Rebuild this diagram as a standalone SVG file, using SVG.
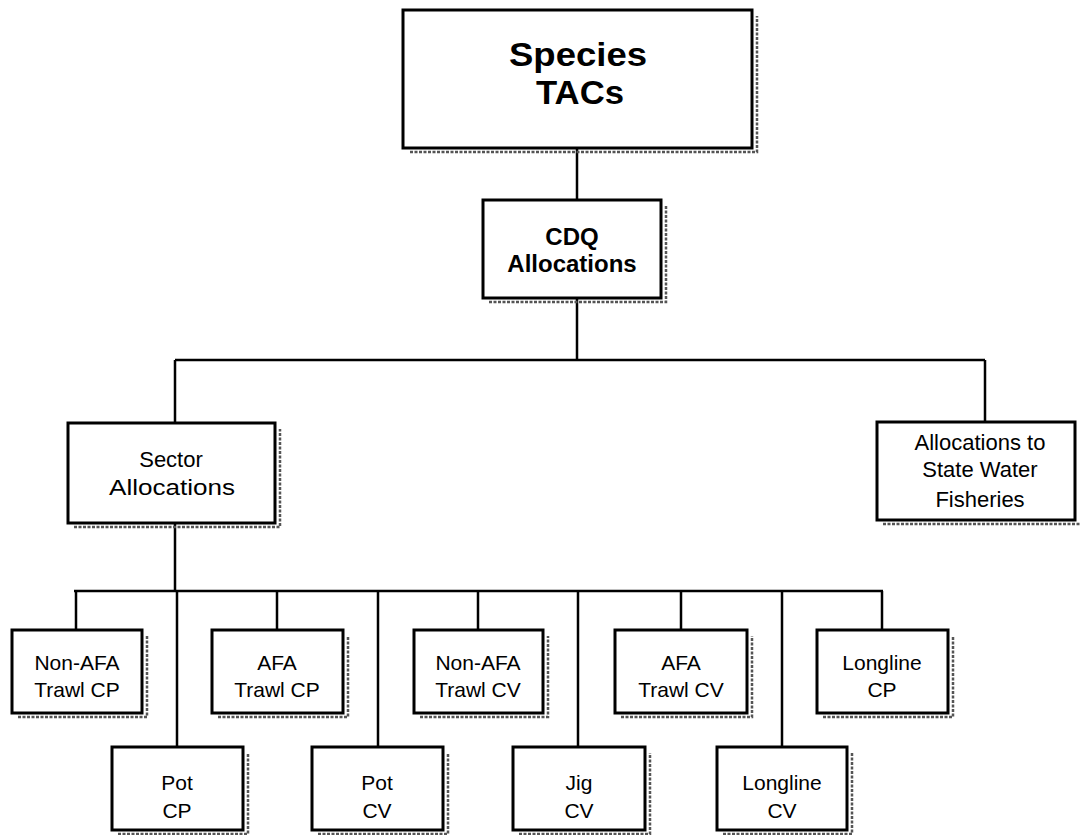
<svg xmlns="http://www.w3.org/2000/svg" width="1080" height="835" viewBox="0 0 1080 835">
<style>
.box{fill:#fff;stroke:#000;stroke-width:3}
.sh{fill:none;stroke:#555;stroke-width:2.5;stroke-dasharray:3 1.5}
.conn{fill:none;stroke:#000;stroke-width:2.5}
.lbl{font-family:"Liberation Sans",Arial,sans-serif;font-size:21px;text-anchor:middle;fill:#000}
.bold{font-weight:bold}
</style>
<rect width="1080" height="835" fill="#fff"/>
<g id="connectors">
<path class="conn" d="M577,148V200M577,298V360M175,360H985M175,360V423M985,360V422"/>
<path class="conn" d="M175,523V591M74,591H883M76,591V630M277,591V630M478,591V630M681,591V630M882,591V630M177,591V747M378,591V747M578,591V747M782,591V747"/>
</g>
<g id="species-tacs">
<path class="sh" d="M410,152H757V16"/>
<rect class="box" x="403" y="10" width="349" height="138"/>
<text class="lbl bold" x="578" y="66" style="font-size:33px" textLength="138" lengthAdjust="spacingAndGlyphs">Species</text>
<text class="lbl bold" x="580" y="104" style="font-size:33px" textLength="88" lengthAdjust="spacingAndGlyphs">TACs</text>
</g>
<g id="cdq-allocations">
<path class="sh" d="M489,302H666V206"/>
<rect class="box" x="483" y="200" width="178" height="98"/>
<text class="lbl bold" x="572" y="245" style="font-size:24px">CDQ</text>
<text class="lbl bold" x="572" y="272" style="font-size:24px">Allocations</text>
</g>
<g id="sector-allocations">
<path class="sh" d="M74,527H280V429"/>
<rect class="box" x="68" y="423" width="207" height="100"/>
<text class="lbl" x="171" y="467" style="font-size:22px">Sector</text>
<text class="lbl" x="172" y="495" style="font-size:22px" textLength="126" lengthAdjust="spacingAndGlyphs">Allocations</text>
</g>
<g id="state-water">
<path class="sh" d="M883,524H1080"/>
<rect class="box" x="877" y="422" width="198" height="98"/>
<text class="lbl" x="980" y="450" style="font-size:22px">Allocations to</text>
<text class="lbl" x="980" y="477" style="font-size:22px">State Water</text>
<text class="lbl" x="980" y="507" style="font-size:22px">Fisheries</text>
</g>
<g id="nonafa-trawl-cp">
<path class="sh" d="M18,717H147V636"/>
<rect class="box" x="12" y="630" width="130" height="83"/>
<text class="lbl" x="77" y="670">Non-AFA</text>
<text class="lbl" x="77" y="697">Trawl CP</text>
</g>
<g id="afa-trawl-cp">
<path class="sh" d="M218,717H348V636"/>
<rect class="box" x="212" y="630" width="131" height="83"/>
<text class="lbl" x="277" y="670">AFA</text>
<text class="lbl" x="277" y="697">Trawl CP</text>
</g>
<g id="nonafa-trawl-cv">
<path class="sh" d="M420,717H548V636"/>
<rect class="box" x="414" y="630" width="129" height="83"/>
<text class="lbl" x="478" y="670">Non-AFA</text>
<text class="lbl" x="478" y="697">Trawl CV</text>
</g>
<g id="afa-trawl-cv">
<path class="sh" d="M621,717H752V636"/>
<rect class="box" x="615" y="630" width="132" height="83"/>
<text class="lbl" x="681" y="670">AFA</text>
<text class="lbl" x="681" y="697">Trawl CV</text>
</g>
<g id="longline-cp">
<path class="sh" d="M823,717H953V636"/>
<rect class="box" x="817" y="630" width="131" height="83"/>
<text class="lbl" x="882" y="670">Longline</text>
<text class="lbl" x="882" y="697">CP</text>
</g>
<g id="pot-cp">
<path class="sh" d="M118,834H248V753"/>
<rect class="box" x="112" y="747" width="131" height="83"/>
<text class="lbl" x="177" y="790">Pot</text>
<text class="lbl" x="177" y="818">CP</text>
</g>
<g id="pot-cv">
<path class="sh" d="M318,834H448V753"/>
<rect class="box" x="312" y="747" width="131" height="83"/>
<text class="lbl" x="377" y="790">Pot</text>
<text class="lbl" x="377" y="818">CV</text>
</g>
<g id="jig-cv">
<path class="sh" d="M519,834H650V753"/>
<rect class="box" x="513" y="747" width="132" height="83"/>
<text class="lbl" x="579" y="790">Jig</text>
<text class="lbl" x="579" y="818">CV</text>
</g>
<g id="longline-cv">
<path class="sh" d="M723,834H852V753"/>
<rect class="box" x="717" y="747" width="130" height="83"/>
<text class="lbl" x="782" y="790">Longline</text>
<text class="lbl" x="782" y="818">CV</text>
</g>
</svg>
